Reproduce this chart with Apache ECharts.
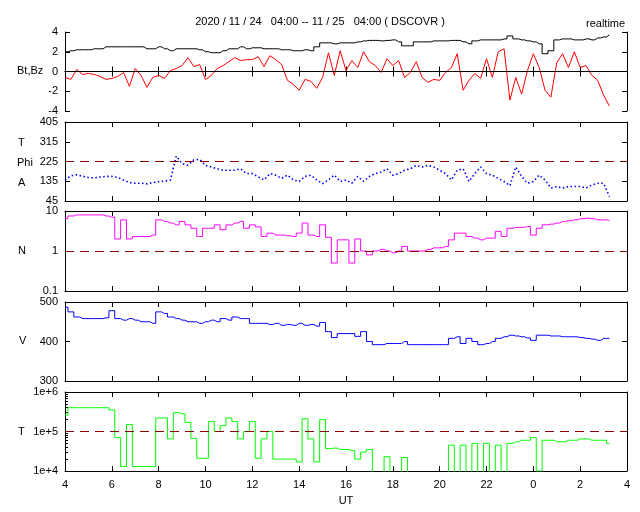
<!DOCTYPE html>
<html><head><meta charset="utf-8">
<script src="https://cdn.jsdelivr.net/npm/echarts@6/dist/echarts.min.js"></script>
<style>html,body{margin:0;background:#fff}#c{width:640px;height:512px}</style>
</head><body><div id="c"></div>
<script>
// samples every 0.25 h starting at 04:00 UT on 11/24 (hour 24 = 00 on 11/25)
const startHour = 4, stepHour = 0.25;
const bt = [2.0,2.1,2.2,2.2, 2.2,2.3,2.3,2.5, 2.5,2.5,2.5,2.5, 2.5,2.5,2.3,2.3, 2.5,2.3,2.1,2.3,
  2.3,2.3,2.3,2.2, 2.0,1.9,1.9,2.1, 2.3,2.3,2.5,2.3, 2.4,2.4,2.3,2.3, 2.3,2.2,2.2,2.1,
  2.1,2.2,2.1,2.5, 2.9,2.9,2.8,2.9, 2.9,2.9,3.0,3.1, 3.15,3.15,3.1,3.15, 3.2,3.0,2.6,2.6,
  3.0,3.0,3.0,3.1, 3.1,3.1,3.15,3.15, 3.0,2.8,3.1,3.2, 3.2,3.2,3.2,3.3, 3.6,3.3,3.2,3.1,
  3.0,2.8,1.8,2.1, 3.2,3.3,3.3,3.2, 3.2,3.3,3.2,3.4, 3.5,3.7];
const bz = [-0.6,-0.8,0.2,-0.3, -0.2,-0.3,-0.5,-0.8, -0.7,-0.5,-0.1,-1.5, 0.3,-0.4,-1.6,-0.6,
  -0.4,-0.7,0.1,0.3, 0.6,1.4,0.5,0.7, -0.8,-0.4,0.3,0.6, 1.0,1.4,1.1,1.2, 1.2,1.5,0.5,1.6,
  1.2,0.7,-0.9,-1.3, -1.9,-0.8,-1.0,-1.7, -0.6,1.9,-0.4,2.1, 0.1,1.1,0.4,2.0, 1.0,0.6,-0.1,1.3,
  0.6,1.1,-0.6,-0.1, 1.0,-0.6,-1.1,-0.8, -0.9,-0.1,0.4,1.8, -1.9,-0.9,-0.2,-0.7, 1.3,-0.6,2.0,2.3,
  -2.9,-0.6,-2.3,0.1, 1.8,0.4,-1.9,-2.6, 0.9,1.8,0.4,2.0, 0.4,0.6,-0.4,-0.9, -2.4,-3.5];
const phi = [141,160,164,158, 152,150,154,157, 157,152,141,129, 126,126,123,129, 133,136,140,250,
  215,208,232,235, 207,200,192,185, 185,185,192,170, 170,155,141,170, 163,148,163,141,
  134,157,163,141, 124,141,163,134, 141,126,157,134, 157,170,177,192, 163,170,185,192,
  207,200,207,200, 185,170,141,185, 192,134,170,200, 170,163,148,134, 115,200,157,126,
  134,163,141,104, 111,104,111,111, 111,104,118,126, 126,65];
const dens = [6.5,7.5,8,8, 8,8,8,7.5, 7,2,6,2, 2.3,2.3,2.3,2.5, 6,5.5,5,4.5, 5.5,4.5,3.7,2.3,
  3.7,3.7,4.5,3.4, 4.5,5,5.5,3.7, 4.5,4,2.3,2.8, 2.5,2.5,2.4,2.3, 2.8,5,2.5,2.3,
  4.5,2.2,0.5,1.9, 1.9,0.5,2.0,1.0, 0.8,1.0,1.1,1.0, 0.9,1.0,1.3,1.0, 1.0,1.0,1.1,1.2,
  1.2,1.3,1.9,2.8, 2.8,2.3,2.1,1.9, 2.1,2.1,3.1,2.3, 3.7,3.9,3.9,4.1, 2.5,3.7,4.5,4.7,
  5,5.5,5.7,6, 6.4,6.6,6.4,6, 6,5.8];
const speed = [487,475,462,458, 458,458,458,460, 478,458,454,458, 454,450,450,446, 475,471,462,458,
  454,450,450,446, 450,454,450,458, 454,462,458,458, 446,446,446,443, 446,441,443,441,
  446,441,443,439, 448,425,410,420, 420,420,413,425, 400,392,392,395, 395,395,400,392,
  392,392,392,392, 392,392,408,412, 395,408,400,392, 395,400,408,412, 416,414,412,409,
  403,416,416,414, 414,412,412,412, 410,408,406,403, 408,408];
const temp = [2.6e5,4e5,4e5,4e5, 4e5,4e5,4e5,4e5, 3.5e5,7e4,1.3e4,1.5e5, 1.3e4,1.3e4,1.3e4,1.3e4,
  2.2e5,2.2e5,6.5e4,3e5, 2.8e5,1.7e5,6.7e4,2.1e4, 2.1e4,1.8e5,1e5,1.4e5, 2.2e5,1.8e5,6.5e4,1e5,
  1.8e5,2.1e4,6.5e4,1e5, 2e4,2e4,2e4,2e4, 1.7e4,2.1e5,6.5e4,1.7e4, 2e5,3.7e4,3.8e4,3.5e4,
  3.5e4,3.3e4,2e4,3e4, 3.5e4,5e3,5e3,2.3e4, 5e3,5e3,2.2e4,5e3, 5e3,5e3,5e3,5e3,
  5e3,5e3,4.5e4,5e3, 4.5e4,5e3,5e4,5e3, 5e4,5e3,4.5e4,5e3, 5e4,5.5e4,6e4,6e4,
  7e4,1e4,6e4,6e4, 5.5e4,5.5e4,6e4,6e4, 6.5e4,6.5e4,6e4,6e4, 6e4,5e4];
const titleText = '2020 / 11 / 24   04:00 -- 11 / 25   04:00 ( DSCOVR )';

const pair = a => a.map((v,i)=>[startHour+i*stepHour, v]);
const F = 'Liberation Sans, Arial, sans-serif';
const tops = [32,122,211,302,392], hts = [79,79,80,79,79];
const grid = tops.map((t,i)=>({left:65,right:13,top:t,height:hts[i]}));
const xAxis = [], yAxis = [];
for (let i=0;i<5;i++){
  const last = i===4;
  xAxis.push({type:'value',gridIndex:i,min:4,max:28,interval:2,
    axisLine:{lineStyle:{color:'#000'}},axisTick:{inside:true,length:5,lineStyle:{color:'#000'}},
    splitLine:{show:false},
    axisLabel:{show:last,color:'#000',fontSize:11,fontFamily:F,formatter:v=>String(v%24)},
    name:last?'UT':'',nameLocation:'middle',nameGap:24,nameTextStyle:{color:'#000',fontSize:11,fontFamily:F}});
  xAxis.push({type:'value',gridIndex:i,position:'top',min:4,max:28,interval:2,
    axisLine:{lineStyle:{color:'#000'}},axisTick:{inside:true,length:5,lineStyle:{color:'#000'}},
    axisLabel:{show:false},splitLine:{show:false}});
}
const yCfg = [
  {type:'value',min:-4,max:4,interval:2},
  {type:'value',min:45,max:405,interval:90},
  {type:'log',min:0.1,max:10,logBase:10,formatter:v=>String(v)},
  {type:'value',min:300,max:500,interval:100},
  {type:'log',min:1e4,max:1e6,logBase:10,formatter:v=>'1e+'+Math.round(Math.log10(v))}
];
yCfg.forEach((c,i)=>{
  const base = {gridIndex:i,type:c.type,min:c.min,max:c.max,splitLine:{show:false},
    axisLine:{show:true,lineStyle:{color:'#000'}},axisTick:{show:true,inside:true,length:5,lineStyle:{color:'#000'}}};
  if (c.interval) base.interval=c.interval;
  if (c.logBase) base.logBase=c.logBase;
  yAxis.push(Object.assign({},base,{position:'left',
    minorTick:{show:i===4,splitNumber:9,length:3,lineStyle:{color:'#000'}},
    axisLabel:{color:'#000',fontSize:11,fontFamily:F,margin:7,formatter:c.formatter}}));
  yAxis.push(Object.assign({},base,{position:'right',axisLabel:{show:false}}));
});
const dash = (v)=>({silent:true,symbol:'none',label:{show:false},
  lineStyle:{color:'#8b0000',type:[9,6],width:1},data:[{yAxis:v}]});
const series = [
  {type:'line',xAxisIndex:0,yAxisIndex:0,data:pair(bt),showSymbol:false,lineStyle:{color:'#000',width:1},step:'middle'},
  {type:'line',xAxisIndex:0,yAxisIndex:0,data:pair(bz),showSymbol:false,lineStyle:{color:'#ff0000',width:1},
    markLine:{silent:true,symbol:'none',label:{show:false},lineStyle:{color:'#000',type:'solid',width:1.2},data:[{yAxis:0}]}},
  {type:'line',xAxisIndex:2,yAxisIndex:2,data:pair(phi),showSymbol:false,
    lineStyle:{color:'#0000ff',width:1.6,type:[1.5,2.5]},markLine:dash(225)},
  {type:'line',xAxisIndex:4,yAxisIndex:4,data:pair(dens),showSymbol:false,lineStyle:{color:'#ff00ff',width:1},step:'middle',markLine:dash(1)},
  {type:'line',xAxisIndex:6,yAxisIndex:6,data:pair(speed),showSymbol:false,lineStyle:{color:'#0000ff',width:1},step:'middle'},
  {type:'line',xAxisIndex:8,yAxisIndex:8,data:pair(temp),showSymbol:false,lineStyle:{color:'#00ff00',width:1},step:'middle',clip:true,markLine:dash(1e5)}
];
const txt = (x,y,s,align)=>({type:'text',left:x,top:y,style:{text:s,fill:'#000',font:'11px '+F,textAlign:align||'left'}});
const chart = echarts.init(document.getElementById('c'),null,{renderer:'canvas'});
chart.setOption({animation:false,backgroundColor:'#fff',grid,xAxis,yAxis,series,
  graphic:[
    {type:'text',left:'center',top:16,style:{text:titleText,fill:'#000',font:'11px '+F},x:28},
    txt(586,18,'realtime'),
    txt(17,65,'Bt,Bz'),
    txt(18,137,'T'),txt(17,157,'Phi'),txt(18,177,'A'),
    txt(18,245,'N'),
    txt(19,335,'V'),
    txt(18,426,'T')
  ]});
</script></body></html>
